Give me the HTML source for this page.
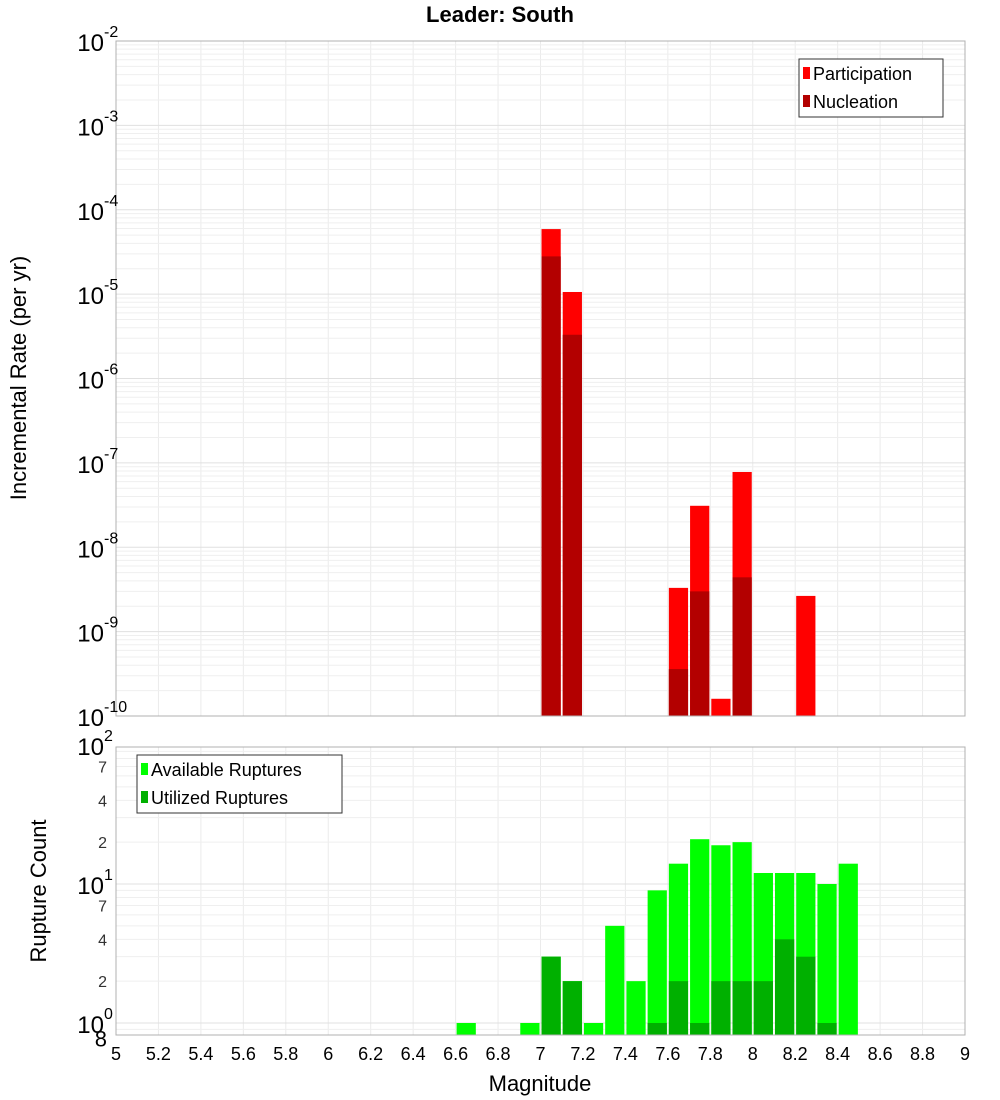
<!DOCTYPE html>
<html><head><meta charset="utf-8"><style>
body{margin:0;background:#fff;}
svg{display:block;font-family:"Liberation Sans","DejaVu Sans",sans-serif;}
</style></head><body>
<svg id="chart" width="1000" height="1100"></svg>
<script>
const bins=[6.6,6.7,6.8,6.9,7.0,7.1,7.2,7.3,7.4,7.5,7.6,7.7,7.8,7.9,8.0,8.1,8.2,8.3,8.4];
const participation=[0,0,0,0,5.9e-5,1.06e-5,0,0,0,0,3.3e-9,3.1e-8,1.6e-10,7.8e-8,0,0,2.65e-9,0,0];
const nucleation=[0,0,0,0,2.8e-5,3.3e-6,0,0,0,0,3.6e-10,3.0e-9,0,4.4e-9,0,0,0,0,0];
const available=[1,0,0,1,3,2,1,5,2,9,14,21,19,20,12,12,12,10,14];
const utilized=[0,0,0,0,3,2,0,0,0,1,2,1,2,2,2,4,3,1,0];
const xTicks=["5","5.2","5.4","5.6","5.8","6","6.2","6.4","6.6","6.8","7","7.2","7.4","7.6","7.8","8","8.2","8.4","8.6","8.8","9"];
const NS="http://www.w3.org/2000/svg";
const svg=document.getElementById('chart');
function mk(tag,attrs,parent){const e=document.createElementNS(NS,tag);for(const k in attrs)e.setAttribute(k,attrs[k]);(parent||svg).appendChild(e);return e;}
const X0=116,X1=965;
const xs=m=>X0+(m-5)/4*(X1-X0);
const T0=41,T1=716;
const yTop=v=>T1-(Math.log10(v)+10)*(T1-T0)/8;
const B0=747,B1=1035,Bdec=139,Bone=1023;
const yBot=v=>Bone-Math.log10(v)*Bdec;

// grids
function grid(top,bot,yfn,decs){
  const g=mk('g',{});
  
  
  for(let i=0;i<=20;i++){const x=xs(5+i*0.2);mk('line',{x1:x,x2:x,y1:top,y2:bot,stroke:'#ebebeb','stroke-width':1},g);}
  decs.forEach(d=>{for(let k=1;k<10;k++){const y=yfn(k*Math.pow(10,d));if(y>=top-0.5&&y<=bot+0.5)mk('line',{x1:X0,x2:X1,y1:y,y2:y,stroke:k==1?'#e0e0e0':'#efefef','stroke-width':1},g);}});
}
grid(T0,T1,yTop,[-10,-9,-8,-7,-6,-5,-4,-3,-2]);
grid(B0,B1,yBot,[-1,0,1,2]);

// top bars
const bw=xs(5.1)-xs(5);
bins.forEach((m,i)=>{
  if(participation[i]>0){const r=mk('rect',{x:xs(m)+1,y:yTop(participation[i]),width:bw-2,height:T1-yTop(participation[i]),fill:'#ff0000'});
    }
  if(nucleation[i]>0){const r=mk('rect',{x:xs(m)+1,y:yTop(nucleation[i]),width:bw-2,height:T1-yTop(nucleation[i]),fill:'#b30000'});
    }
  if(available[i]>0){const r=mk('rect',{x:xs(m)+1,y:yBot(available[i]),width:bw-2,height:B1-yBot(available[i]),fill:'#00ff00'});
    }
  if(utilized[i]>0){const r=mk('rect',{x:xs(m)+1,y:yBot(utilized[i]),width:bw-2,height:B1-yBot(utilized[i]),fill:'#00b000'});
    }
});
// frames
mk('rect',{x:X0,y:T0,width:X1-X0,height:T1-T0,fill:'none',stroke:'#b0b0b0'});
mk('rect',{x:X0,y:B0,width:X1-X0,height:B1-B0,fill:'none',stroke:'#b0b0b0'});

// top y ticks
for(let d=-10;d<=-2;d++){
  const y=yTop(Math.pow(10,d));
  const t=mk('text',{x:104,y:y+10,'text-anchor':'end','font-size':24,fill:'#000'});
  
  t.textContent='10';
  const s=mk('text',{x:104,y:y-4,'font-size':16,fill:'#000'});s.textContent=String(d);
}
// bottom y ticks
[[100,'10','2'],[10,'10','1'],[1,'10','0']].forEach(([v,b,e])=>{
  const y=yBot(v);
  const t=mk('text',{x:104,y:y+10,'text-anchor':'end','font-size':24,fill:'#000'});
  
  t.textContent=b;
  const s=mk('text',{x:104,y:y-4,'font-size':16,fill:'#000'});s.textContent=e;
});
[[70,'7'],[40,'4'],[20,'2'],[7,'7'],[4,'4'],[2,'2'],[0.8,'8']].forEach(([v,l])=>{
  const y=yBot(v);const big=v<1;
  const t=mk('text',{x:107,y:y+(big?10:6),'text-anchor':'end','font-size':big?22:16,fill:big?'#000':'#333'});
  
  t.textContent=l;
});
// x ticks
xTicks.forEach(l=>{
  const t=mk('text',{x:xs(parseFloat(l)),y:1060,'text-anchor':'middle','font-size':18,fill:'#000'});
  
  t.textContent=l;
});
// titles
let t=mk('text',{x:500,y:22,'text-anchor':'middle','font-size':22,'font-weight':'bold'});
t.textContent='Leader: South';
t=mk('text',{x:540,y:1091,'text-anchor':'middle','font-size':22});
t.textContent='Magnitude';
t=mk('text',{x:0,y:0,'text-anchor':'middle','font-size':22,transform:'translate(26,378) rotate(-90)'});
t.textContent='Incremental Rate (per yr)';
t=mk('text',{x:0,y:0,'text-anchor':'middle','font-size':22,transform:'translate(46,891) rotate(-90)'});
t.textContent='Rupture Count';

// legends
function legend(x,y,w,items,name){
  const g=mk('g',{});
  
  mk('rect',{x:x,y:y,width:w,height:58,fill:'#fff',stroke:'#333'},g);
  items.forEach(([c,l],i)=>{
    mk('rect',{x:x+4,y:y+8+i*28,width:7,height:12,fill:c},g);
    const tt=mk('text',{x:x+14,y:y+21+i*28,'font-size':18,fill:'#000'},g);tt.textContent=l;
  });
}
legend(799,59,144,[['#ff0000','Participation'],['#b30000','Nucleation']],'rate-legend');
legend(137,755,205,[['#00ff00','Available Ruptures'],['#00b000','Utilized Ruptures']],'count-legend');
</script>
</body></html>
